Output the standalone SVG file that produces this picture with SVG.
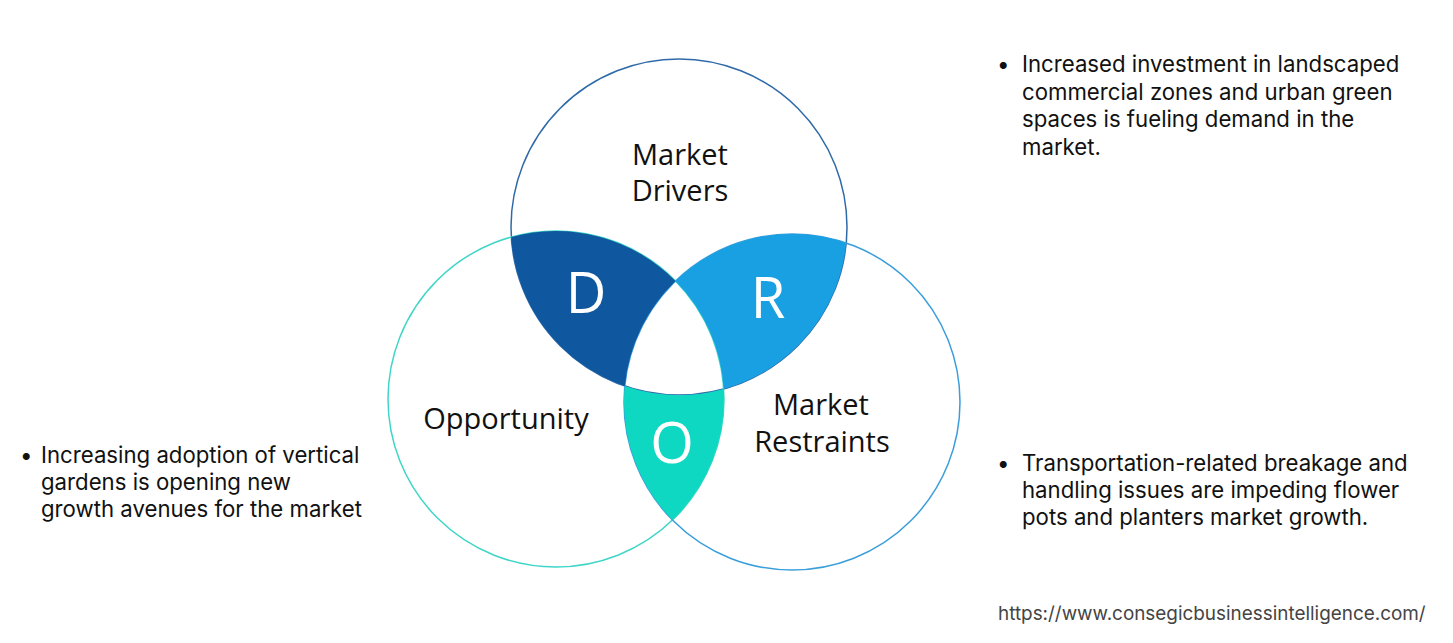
<svg xmlns="http://www.w3.org/2000/svg" width="1453" height="643" viewBox="0 0 1453 643">
<style>
.lbl{font-family:"Open Sans","Liberation Sans",sans-serif;font-size:29px;fill:#111;text-anchor:middle}
.big{font-family:"Open Sans","Liberation Sans",sans-serif;font-size:56px;fill:#fff;text-anchor:middle}
.txt{font-family:Inter,"Liberation Sans",sans-serif;font-size:22.2px;fill:#111}
.url{font-family:Inter,"Liberation Sans",sans-serif;font-size:18.9px;fill:#444}
.c{fill:none;stroke-width:1.5}
</style>
<rect width="1453" height="643" fill="#fff"/>
<g id="circles">
<circle id="circle-drivers" class="c" cx="679" cy="227" r="168" stroke="#2f6aa8"/>
<circle id="circle-opportunity" class="c" cx="556" cy="399" r="168" stroke="#3fd6c7"/>
<circle id="circle-restraints" class="c" cx="792" cy="402" r="168" stroke="#3a9edb"/>
</g>
<g id="node-D">
<path d="M511.3,237 A168,168 0 0 1 675.5,281 A168,168 0 0 0 624.8,386 A168,168 0 0 1 511.3,237 Z" fill="#0f579e"/>
<text class="big" x="586" y="313">D</text>
</g>
<g id="node-R">
<path d="M675.5,281 A168,168 0 0 1 846.2,243 A168,168 0 0 1 723.7,389 A168,168 0 0 0 675.5,281 Z" fill="#18a0e2"/>
<text class="big" x="768" y="318">R</text>
</g>
<g id="node-O">
<path d="M624.8,386 A168,168 0 0 0 723.7,389 A168,168 0 0 1 672.5,520 A168,168 0 0 1 624.8,386 Z" fill="#0fd8c2"/>
<text class="big" x="672" y="463">O</text>
</g>
<g id="label-drivers">
<text class="lbl" x="680" y="165">Market</text>
<text class="lbl" x="680" y="201">Drivers</text>
</g>
<g id="label-opportunity">
<text class="lbl" x="506" y="429">Opportunity</text>
</g>
<g id="label-restraints">
<text class="lbl" x="821" y="415">Market</text>
<text class="lbl" x="822" y="452">Restraints</text>
</g>
<g id="note-drivers">
<text class="txt" x="997" y="72">•</text>
<text class="txt" x="1022" y="72">Increased investment in landscaped</text>
<text class="txt" x="1022" y="100">commercial zones and urban green</text>
<text class="txt" x="1022" y="127">spaces is fueling demand in the</text>
<text class="txt" x="1022" y="155">market.</text>
</g>
<g id="note-restraints">
<text class="txt" x="997" y="471">•</text>
<text class="txt" x="1022" y="471">Transportation-related breakage and</text>
<text class="txt" x="1022" y="498">handling issues are impeding flower</text>
<text class="txt" x="1022" y="525">pots and planters market growth.</text>
</g>
<g id="note-opportunity">
<text class="txt" x="20" y="463">•</text>
<text class="txt" x="41" y="463">Increasing adoption of vertical</text>
<text class="txt" x="41" y="490">gardens is opening new</text>
<text class="txt" x="41" y="517">growth avenues for the market</text>
</g>
<g id="connectors"></g>
<text class="url" x="998" y="620">https://www.consegicbusinessintelligence.com/</text>
</svg>
